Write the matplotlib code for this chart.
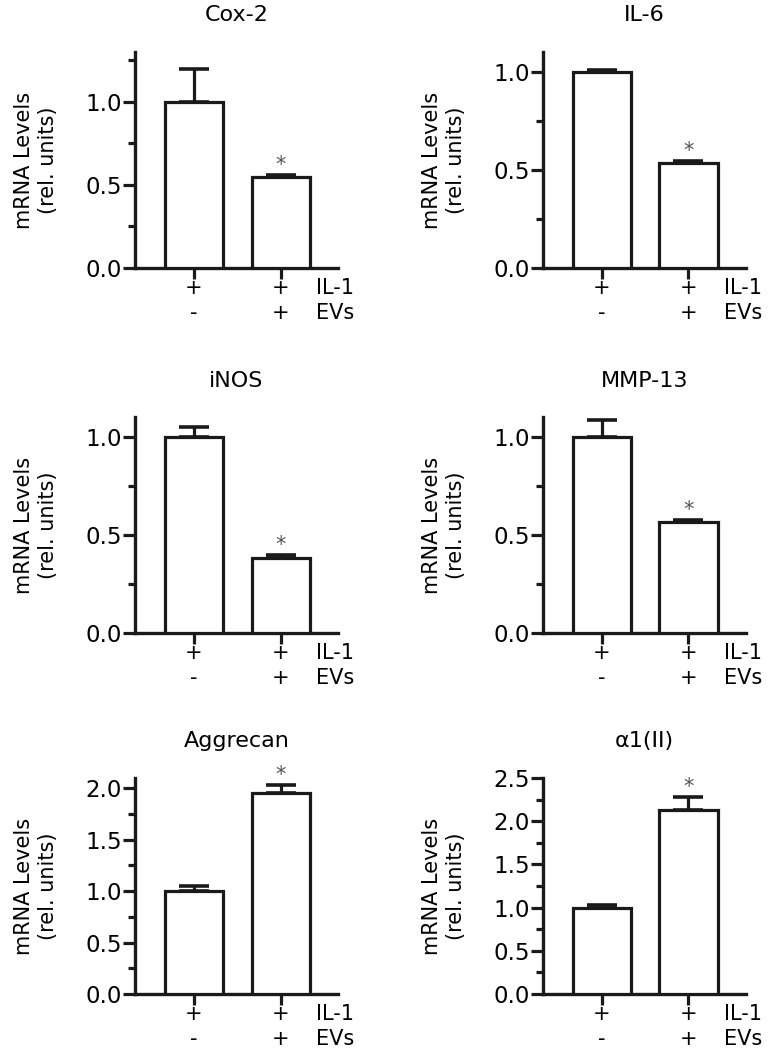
#bar panels of mRNA levels, IL-1 vs IL-1 + EVs

import matplotlib
matplotlib.use('Agg')
import matplotlib.pyplot as plt
from matplotlib.ticker import MultipleLocator

plt.rcParams['font.family'] = ['DejaVu Sans']

genes = ['Cox-2', 'IL-6', 'iNOS', 'MMP-13', 'Aggrecan', 'α1(II)']
means = [[1.0, 0.545], [1.0, 0.533], [1.0, 0.382], [1.0, 0.567], [1.0, 1.95], [1.0, 2.13]]
errs = [[0.20, 0.012], [0.01, 0.01], [0.05, 0.018], [0.085, 0.008], [0.05, 0.085], [0.03, 0.15]]
ymax = [1.3, 1.1, 1.1, 1.1, 2.1, 2.5]
signif = [False, True]
il1_row = ['+', '+']
evs_row = ['-', '+']
row_names = ['IL-1', 'EVs']

fig = plt.figure(figsize=(7.8, 10.5), dpi=100)

lefts = [0.173, 0.696]
bottoms = [0.7448, 0.397, 0.0533]
w, h = 0.260, 0.2057
ink = '#1a1a1a'

for i, g in enumerate(genes):
    ax = fig.add_axes([lefts[i % 2], bottoms[i // 2], w, h])
    x = [0, 1]
    ax.bar(x, means[i], width=0.67, color='white', edgecolor=ink, linewidth=2.3, zorder=3)
    ax.errorbar(x, means[i], yerr=[[0, 0], errs[i]], fmt='none', ecolor=ink,
                elinewidth=2.3, capsize=11, capthick=2.6, zorder=2)
    for j in range(2):
        if signif[j]:
            ax.annotate('*', xy=(x[j], means[i][j] + errs[i][j]), xytext=(0, 0),
                        textcoords='offset points', ha='center', va='bottom',
                        fontsize=15, color='#555555')
        ax.annotate(il1_row[j], xy=(x[j], 0), xycoords=('data', 'axes fraction'),
                    xytext=(0, -14.5), textcoords='offset points', ha='center', va='center', fontsize=15)
        ax.annotate(evs_row[j], xy=(x[j], 0), xycoords=('data', 'axes fraction'),
                    xytext=(0, -32.5), textcoords='offset points', ha='center', va='center', fontsize=15)
    for k, name in enumerate(row_names):
        ax.annotate(name, xy=(1.41, 0), xycoords=('data', 'axes fraction'),
                    xytext=(0, -14.5 - 18 * k), textcoords='offset points', ha='left', va='center',
                    fontsize=15)

    ax.set_xlim(-0.68, 1.66)
    ax.set_ylim(0, ymax[i])
    ax.yaxis.set_major_locator(MultipleLocator(0.5))
    ax.yaxis.set_minor_locator(MultipleLocator(0.25))
    ax.yaxis.set_major_formatter(plt.FormatStrFormatter('%.1f'))
    ax.set_xticks(x)
    ax.tick_params(axis='x', labelbottom=False, length=8, width=2.3, color=ink)
    ax.tick_params(axis='y', which='major', length=8.5, width=2.3, labelsize=16.5, color=ink, pad=1)
    ax.tick_params(axis='y', which='minor', length=5, width=2.3, color=ink)
    for s in ['top', 'right']:
        ax.spines[s].set_visible(False)
    for s in ['left', 'bottom']:
        ax.spines[s].set_linewidth(2.4)
        ax.spines[s].set_color(ink)
    ax.set_title(g, fontsize=16, pad=22)
    ax.set_ylabel('mRNA Levels\n(rel. units)', fontsize=15, linespacing=1.25)
    ax.yaxis.set_label_coords(-0.38, 0.5)

plt.savefig('out.png', dpi=100)
plt.close()
